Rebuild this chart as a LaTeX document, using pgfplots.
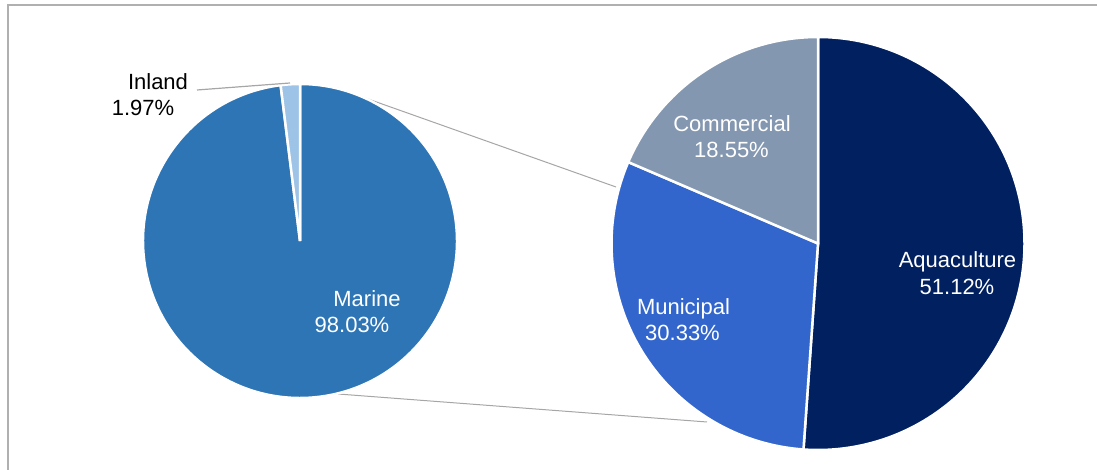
\documentclass[border=0pt]{standalone}
\usepackage{fontspec}
\setmainfont{Liberation Sans}
\usepackage{pgfplots}
\pgfplotsset{compat=1.18}
\definecolor{cMarine}{HTML}{2E75B6}
\definecolor{cInland}{HTML}{9DC3E6}
\definecolor{cAqua}{HTML}{002060}
\definecolor{cMuni}{HTML}{3366CC}
\definecolor{cComm}{HTML}{8497B0}
\definecolor{cFrame}{HTML}{B0B0B0}
\definecolor{cLine}{HTML}{A6A6A6}
% data (percent)
\def\pMarine{98.03}
\def\pInland{1.97}
\def\pAqua{51.12}
\def\pMuni{30.33}
\def\pComm{18.55}
\begin{document}
\begin{tikzpicture}
\pgfmathsetmacro\aI{90+3.6*\pInland}
\pgfmathsetmacro\aA{90-3.6*\pAqua}
\pgfmathsetmacro\aM{\aA-3.6*\pMuni}
\pgfmathsetmacro\aC{\aM-3.6*\pComm}
\begin{axis}[
  at={(0,0)}, anchor=origin,
  width=1097pt, height=470pt, scale only axis,
  xmin=0, xmax=1097, ymin=0, ymax=470,
  hide axis, clip=true,
]
% frame
\draw[cFrame, line width=2pt] (axis cs:7.5,-20) -- (axis cs:7.5,465) -- (axis cs:1120,465);
% connector lines
\draw[cLine, line width=1pt] (axis cs:337,382) -- (axis cs:616,283);
\draw[cLine, line width=1pt] (axis cs:338,76) -- (axis cs:707,48);
% primary pie
\fill[cMarine, draw=white, line width=2.5pt] (axis cs:300,229) -- ++(\aI:157pt) arc[start angle=\aI, end angle=450, radius=157pt] -- cycle;
\fill[cInland, draw=white, line width=2.5pt] (axis cs:300,229) -- ++(90:157pt) arc[start angle=90, end angle=\aI, radius=157pt] -- cycle;
% secondary pie
\fill[cAqua, draw=white, line width=2.5pt] (axis cs:818,226.5) -- ++(90:206.5pt) arc[start angle=90, end angle=\aA, radius=206.5pt] -- cycle;
\fill[cMuni, draw=white, line width=2.5pt] (axis cs:818,226.5) -- ++(\aA:206.5pt) arc[start angle=\aA, end angle=\aM, radius=206.5pt] -- cycle;
\fill[cComm, draw=white, line width=2.5pt] (axis cs:818,226.5) -- ++(\aM:206.5pt) arc[start angle=\aM, end angle=\aC, radius=206.5pt] -- cycle;
% inland leader
\draw[cLine, line width=1.2pt] (axis cs:197,380) -- (axis cs:290,387);
% labels
\tikzset{lab/.style={anchor=base, inner sep=0pt, font=\fontsize{22}{26}\selectfont}}
\node[lab, black] at (axis cs:158,380) {Inland};
\node[lab, black] at (axis cs:143,354) {1.97\%};
\node[lab, white] at (axis cs:367,163) {Marine};
\node[lab, white] at (axis cs:352,137) {98.03\%};
\node[lab, white] at (axis cs:957.5,202) {Aquaculture};
\node[lab, white] at (axis cs:957,175) {51.12\%};
\node[lab, white] at (axis cs:732,338) {Commercial};
\node[lab, white] at (axis cs:731.5,312) {18.55\%};
\node[lab, white] at (axis cs:683.5,155) {Municipal};
\node[lab, white] at (axis cs:682.5,129) {30.33\%};
\end{axis}
\pgfresetboundingbox
\useasboundingbox (0,0) rectangle (1097pt,470pt);
\end{tikzpicture}
\end{document}
